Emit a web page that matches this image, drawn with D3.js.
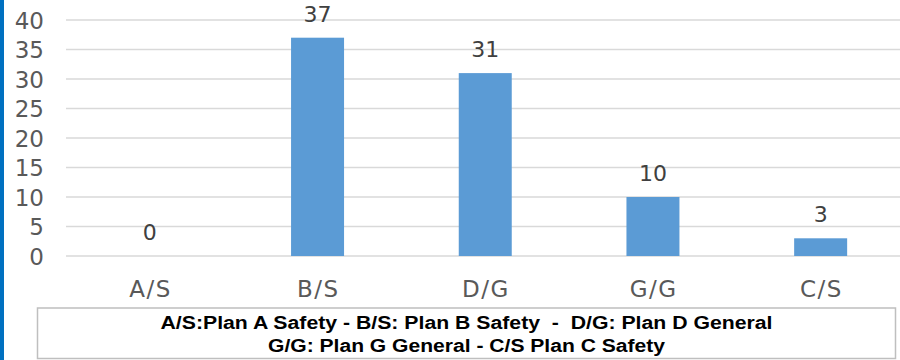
<!DOCTYPE html>
<html><head><meta charset="utf-8">
<script src="https://cdn.jsdelivr.net/npm/d3@7"></script>
<style>html,body{margin:0;padding:0;background:#fff;overflow:hidden}</style>
</head><body>
<svg id="c" width="900" height="360"></svg>
<script>
const categories = ["A/S","B/S","D/G","G/G","C/S"];
const values = [0,37,31,10,3];
const yTicks = [0,5,10,15,20,25,30,35,40];
const legendLines = ["A/S:Plan A Safety - B/S: Plan B Safety  -  D/G: Plan D General",
                     "G/G: Plan G General - C/S Plan C Safety"];

const svg = d3.select("#c");
svg.append("rect").attr("x",0).attr("y",0).attr("width",900).attr("height",360).attr("fill","#fff");
svg.append("rect").attr("x",0).attr("y",0).attr("width",4).attr("height",360).attr("fill","#0070C0");

const x = d3.scaleBand().domain(categories).range([66, 904.5]).paddingInner(0.684).paddingOuter(0.342);
const y = d3.scaleLinear().domain([0,40]).range([256,20]);

// gridlines
svg.append("g").selectAll("line").data(yTicks).join("line")
  .attr("x1",66).attr("x2",900)
  .attr("y1",d=>y(d)).attr("y2",d=>y(d))
  .attr("stroke","#d9d9d9").attr("stroke-width",1.5);

// y axis labels
const yAxis = d3.axisLeft(y).tickValues(yTicks).tickSize(0).tickPadding(0);
const gy = svg.append("g").attr("transform","translate(44,0)").call(yAxis);
gy.select(".domain").remove();
gy.selectAll("text").attr("font-family","DejaVu Sans").attr("font-size",23).attr("fill","#595959").attr("dy","0.36em");

// bars
svg.append("g").selectAll("rect").data(values).join("rect")
  .attr("x",(d,i)=>x(categories[i])).attr("width",x.bandwidth())
  .attr("y",d=>y(d)).attr("height",d=>y(0)-y(d))
  .attr("fill","#5B9BD5");

// value labels
svg.append("g").selectAll("text").data(values).join("text")
  .attr("x",(d,i)=>x(categories[i])+x.bandwidth()/2)
  .attr("y",d=>y(d)-16)
  .attr("text-anchor","middle")
  .attr("font-family","DejaVu Sans").attr("font-size",22).attr("fill","#404040")
  .text(d=>d);

// x axis labels
const xAxis = d3.axisBottom(x).tickSize(0).tickPadding(0);
const gx = svg.append("g").attr("transform","translate(0,296.5)").call(xAxis);
gx.select(".domain").remove();
gx.selectAll("text").attr("font-family","DejaVu Sans").attr("font-size",23).attr("fill","#595959").attr("dy","0")
  .attr("letter-spacing","1.5px").attr("dx","0.75");

// legend box
svg.append("rect").attr("x",37.5).attr("y",308).attr("width",858).attr("height",50.5)
  .attr("fill","none").attr("stroke","#bfbfbf").attr("stroke-width",1.5);
const legendWidths = [612, 397];
svg.append("g").selectAll("text").data(legendLines).join("text")
  .attr("x",(d,i)=>466.5 - legendWidths[i]/2).attr("y",(d,i)=>329+i*23)
  .attr("textLength",(d,i)=>legendWidths[i]).attr("lengthAdjust","spacingAndGlyphs")
  .attr("font-family","Liberation Sans, Arial").attr("font-weight","bold").attr("font-size",18).attr("fill","#000")
  .attr("xml:space","preserve").style("white-space","pre")
  .text(d=>d);
</script>
</body></html>
